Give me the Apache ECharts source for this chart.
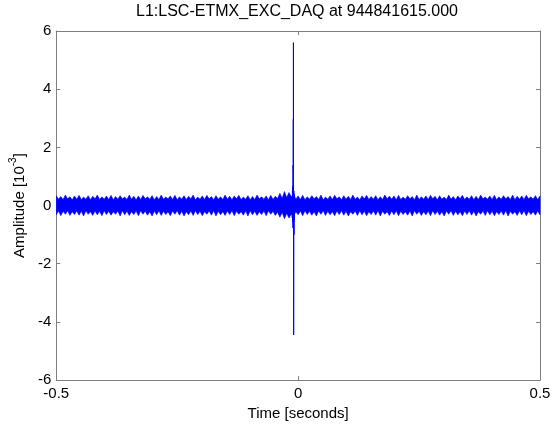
<!DOCTYPE html>
<html>
<head>
<meta charset="utf-8">
<script src="https://cdn.jsdelivr.net/npm/echarts@6/dist/echarts.min.js"></script>
<style>
  html, body { margin: 0; padding: 0; background: #fff; }
  #chart { width: 558px; height: 426px; }
</style>
</head>
<body>
<div id="chart"></div>
<script>
// Channel snapshot: excitation channel amplitude (units of 1e-3) around the trigger time.
const chartTitle = 'L1:LSC-ETMX_EXC_DAQ at 944841615.000';
const xTicks = [-0.5, 0, 0.5];
const yTicks = [-6, -4, -2, 0, 2, 4, 6];

// Upper / lower envelope of the dense oscillation, evenly spaced from -0.5 s to 0.5 s.
const envUpper = [
  0.34,0.22,0.31,0.21,0.36,0.23,0.30,0.20,0.33,0.22,
  0.35,0.21,0.29,0.22,0.34,0.20,0.32,0.23,0.36,0.21,
  0.30,0.22,0.33,0.21,0.35,0.20,0.31,0.22,0.34,0.23,
  0.29,0.21,0.36,0.22,0.32,0.20,0.33,0.21,0.35,0.23,
  0.30,0.22,0.34,0.20,0.31,0.21,0.36,0.22,0.29,0.23,
  0.33,0.21,0.35,0.20,0.30,0.22,0.34,0.21,0.32,0.23,
  0.36,0.20,0.29,0.22,0.33,0.21,0.35,0.23,0.31,0.20,
  0.34,0.22,0.30,0.21,0.36,0.22,0.32,0.20,0.33,0.23,
  0.35,0.21,0.29,0.22,0.34,0.20,0.31,0.21,0.36,0.23,
  0.30,0.22,0.33,0.20,0.35,0.21,0.32,0.24,0.42,0.25,
  0.48,0.28,0.45,0.30,0.40,0.22,0.33,0.21,0.35,0.20,
  0.30,0.22,0.34,0.23,0.31,0.21,0.36,0.20,0.29,0.22,
  0.33,0.21,0.35,0.23,0.30,0.20,0.34,0.22,0.32,0.21,
  0.36,0.22,0.29,0.20,0.33,0.23,0.35,0.21,0.31,0.22,
  0.34,0.20,0.30,0.21,0.36,0.23,0.32,0.22,0.33,0.20,
  0.35,0.21,0.29,0.22,0.34,0.23,0.31,0.20,0.36,0.21,
  0.30,0.22,0.33,0.21,0.35,0.23,0.32,0.20,0.34,0.22,
  0.29,0.21,0.36,0.22,0.31,0.20,0.33,0.23,0.35,0.21,
  0.30,0.22,0.34,0.20,0.32,0.21,0.36,0.23,0.29,0.22,
  0.33,0.21,0.35,0.20,0.30,0.22,0.34,0.23,0.31,0.21,
  0.36,0.20,0.32,0.22,0.33,0.21,0.35,0.23,0.30,0.22,
  0.34,0.21,0.33
];
const envLower = [
  -0.32,-0.19,-0.35,-0.20,-0.30,-0.18,-0.34,-0.21,-0.31,-0.19,
  -0.33,-0.20,-0.36,-0.18,-0.30,-0.21,-0.34,-0.19,-0.32,-0.20,
  -0.35,-0.18,-0.31,-0.20,-0.33,-0.21,-0.30,-0.19,-0.36,-0.18,
  -0.32,-0.20,-0.34,-0.21,-0.31,-0.19,-0.35,-0.18,-0.30,-0.20,
  -0.33,-0.21,-0.36,-0.19,-0.32,-0.18,-0.34,-0.20,-0.31,-0.21,
  -0.35,-0.19,-0.30,-0.18,-0.33,-0.20,-0.36,-0.21,-0.32,-0.19,
  -0.34,-0.18,-0.31,-0.20,-0.35,-0.21,-0.30,-0.19,-0.33,-0.18,
  -0.36,-0.20,-0.32,-0.21,-0.34,-0.19,-0.31,-0.18,-0.35,-0.20,
  -0.30,-0.21,-0.33,-0.19,-0.36,-0.18,-0.32,-0.20,-0.34,-0.21,
  -0.31,-0.19,-0.35,-0.18,-0.30,-0.20,-0.34,-0.23,-0.40,-0.24,
  -0.45,-0.27,-0.43,-0.30,-0.38,-0.21,-0.32,-0.19,-0.35,-0.18,
  -0.31,-0.20,-0.33,-0.21,-0.36,-0.19,-0.30,-0.18,-0.34,-0.20,
  -0.32,-0.21,-0.35,-0.19,-0.31,-0.18,-0.33,-0.20,-0.36,-0.21,
  -0.30,-0.19,-0.34,-0.18,-0.32,-0.20,-0.35,-0.21,-0.31,-0.19,
  -0.33,-0.18,-0.36,-0.20,-0.30,-0.21,-0.34,-0.19,-0.32,-0.18,
  -0.35,-0.20,-0.31,-0.21,-0.33,-0.19,-0.36,-0.18,-0.30,-0.20,
  -0.34,-0.21,-0.32,-0.19,-0.35,-0.18,-0.31,-0.20,-0.33,-0.21,
  -0.36,-0.19,-0.30,-0.18,-0.34,-0.20,-0.32,-0.21,-0.35,-0.19,
  -0.31,-0.18,-0.33,-0.20,-0.36,-0.21,-0.30,-0.19,-0.34,-0.18,
  -0.32,-0.20,-0.35,-0.21,-0.31,-0.19,-0.33,-0.18,-0.36,-0.20,
  -0.30,-0.21,-0.34,-0.19,-0.32,-0.18,-0.35,-0.20,-0.31,-0.21,
  -0.33,-0.19,-0.32
];
const envStart = -0.5;
const envEnd = 0.5;

// Transient just before t = 0 (seconds, amplitude in 1e-3).
const spikeTime = [-0.0125, -0.0121, -0.0117, -0.0113, -0.0109, -0.0106, -0.0103, -0.0101,
                   -0.0099, -0.0098, -0.0097, -0.0095, -0.0092, -0.0090, -0.0088, -0.0086,
                   -0.0084, -0.0081, -0.0078];
const spikeValue = [0.30, -0.42, 0.52, -0.55, 0.66, -0.77, 1.39, -0.60,
                    2.97, 1.20, 5.60, -0.90, -4.45, -2.80, 0.50, -1.00,
                    0.40, -0.50, 0.30];

const envTime = envUpper.map((_, i) => envStart + (envEnd - envStart) * i / (envUpper.length - 1));
const spikeData = spikeTime.map((t, i) => [t, spikeValue[i]]);

const FONT = '"Liberation Sans", Arial, Helvetica, sans-serif';
const AXIS_GREY = '#7f7f7f';
const TRACE = '#0000ff';

const chart = echarts.init(document.getElementById('chart'), null, { renderer: 'canvas' });

function boxAxis(extra) {
  return Object.assign({
    type: 'value',
    axisLine: { show: true, onZero: false, lineStyle: { color: AXIS_GREY, width: 1 } },
    axisTick: { show: true, inside: true, length: 4, lineStyle: { color: AXIS_GREY } },
    splitLine: { show: false }
  }, extra);
}

chart.setOption({
  animation: false,
  backgroundColor: '#ffffff',
  grid: { left: 54, right: 18, top: 31, bottom: 42, containLabel: false },
  graphic: [{
    type: 'text',
    x: 297, y: 12,
    style: {
      text: chartTitle,
      font: '16px ' + FONT,
      fill: '#000',
      textAlign: 'center',
      textVerticalAlign: 'middle'
    }
  }],
  xAxis: [
    boxAxis({
      position: 'bottom', min: xTicks[0], max: xTicks[xTicks.length - 1], interval: 0.5,
      axisLabel: { color: '#000', fontSize: 15, fontFamily: FONT, margin: 6,
        formatter: v => xTicks.includes(v) ? String(v) : '' },
      name: 'Time [seconds]', nameLocation: 'middle', nameGap: 19,
      nameTextStyle: { color: '#000', fontSize: 15, fontFamily: FONT }
    }),
    boxAxis({
      position: 'top', min: xTicks[0], max: xTicks[xTicks.length - 1], interval: 0.5,
      axisLabel: { show: false }
    })
  ],
  yAxis: [
    boxAxis({
      position: 'left', min: yTicks[0], max: yTicks[yTicks.length - 1], interval: 2,
      axisLabel: { color: '#000', fontSize: 15, fontFamily: FONT, margin: 5,
        formatter: v => yTicks.includes(v) ? String(v) : '' },
      name: '{n|Amplitude [10}{s|-3}{n|]}', nameLocation: 'middle', nameGap: 24, nameRotate: 90,
      nameTextStyle: {
        color: '#000', fontFamily: FONT,
        rich: {
          n: { fontSize: 15, fontFamily: FONT, color: '#000', lineHeight: 19, verticalAlign: 'bottom' },
          s: { fontSize: 10, fontFamily: FONT, color: '#000', lineHeight: 19, verticalAlign: 'top' }
        }
      }
    }),
    boxAxis({
      position: 'right', min: yTicks[0], max: yTicks[yTicks.length - 1], interval: 2,
      axisLabel: { show: false }
    })
  ],
  series: [
    {
      // filled band between the upper and lower envelope
      type: 'custom',
      clip: true,
      xAxisIndex: 0, yAxisIndex: 0,
      data: [[envTime[0], 0]],
      renderItem: function (params, api) {
        const pts = [];
        for (let i = 0; i < envTime.length; i++) pts.push(api.coord([envTime[i], envUpper[i]]));
        for (let i = envTime.length - 1; i >= 0; i--) pts.push(api.coord([envTime[i], envLower[i]]));
        return {
          type: 'polygon',
          shape: { points: pts },
          style: { fill: TRACE, stroke: TRACE, lineWidth: 0.6 }
        };
      },
      silent: true
    },
    {
      type: 'line',
      xAxisIndex: 0, yAxisIndex: 0,
      data: spikeData,
      showSymbol: false,
      symbol: 'none',
      lineStyle: { color: TRACE, width: 1 },
      silent: true
    }
  ]
});
</script>
</body>
</html>
